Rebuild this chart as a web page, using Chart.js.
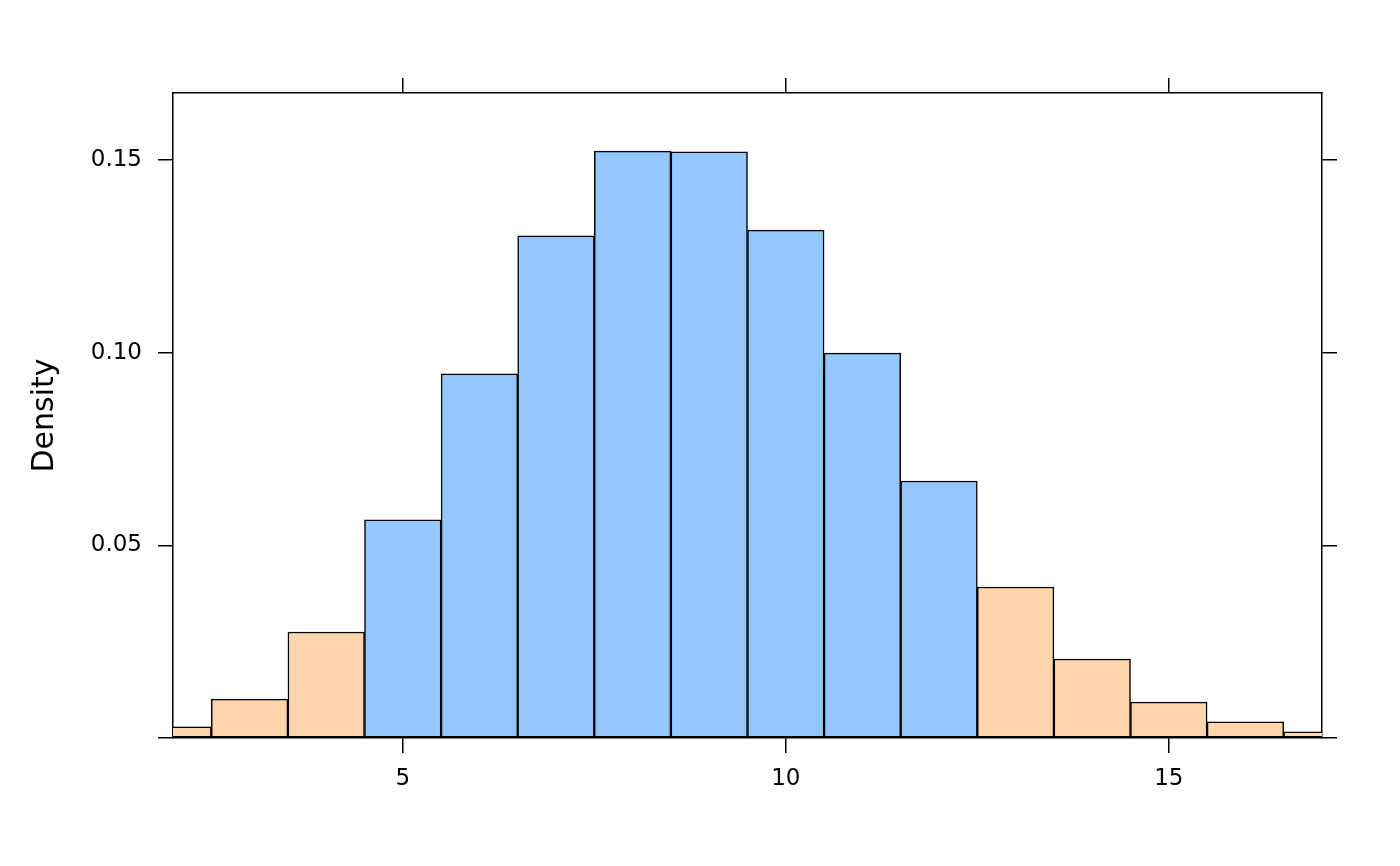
<!DOCTYPE html>
<html>
<head>
<meta charset="utf-8">
<script src="https://cdn.jsdelivr.net/npm/chart.js@4.4.1/dist/chart.umd.min.js"></script>
<style>
  html, body { margin: 0; padding: 0; background: #fff; }
  #wrap { width: 1400px; height: 866px; }
</style>
</head>
<body>
<div id="wrap"><canvas id="myChart" width="1400" height="866"></canvas></div>
<script>
// bin centres (width 1), density per bin
const binCenters = [2, 3, 4, 5, 6, 7, 8, 9, 10, 11, 12, 13, 14, 15, 16, 17];
const density = [0.0029, 0.0101, 0.0275, 0.0566, 0.0945, 0.1303, 0.1523, 0.1521,
                 0.1318, 0.0999, 0.0667, 0.0392, 0.0205, 0.0093, 0.0042, 0.0016];
// which bins are in the middle group (blue) vs. the tails (peach)
const inMiddle = [false, false, false, true, true, true, true, true,
                  true, true, true, false, false, false, false, false];
const xTicks = [5, 10, 15];
const yTicks = [0, 0.05, 0.10, 0.15];

const peach = '#FFD5AE';
const blue = '#94C6FF';

const tickFont = { family: 'DejaVu Sans', size: 23 };

function fixTicks(values) {
  return function (scale) {
    scale.ticks = values.map(v => ({ value: v }));
  };
}

const ctx = document.getElementById('myChart');
new Chart(ctx, {
  type: 'bar',
  data: {
    datasets: [{
      data: binCenters.map((x, i) => ({ x: x, y: density[i] })),
      backgroundColor: inMiddle.map(m => m ? blue : peach),
      borderColor: '#000',
      borderWidth: 1.5,
      borderSkipped: false,
      barPercentage: 1,
      categoryPercentage: 1,
      clip: 0
    }]
  },
  options: {
    responsive: false,
    animation: false,
    events: [],
    layout: { padding: 0 },
    plugins: { legend: { display: false }, tooltip: { enabled: false } },
    scales: {
      x: {
        type: 'linear',
        position: 'bottom',
        min: 2,
        max: 17,
        offset: false,
        afterBuildTicks: fixTicks(xTicks),
        afterFit: s => { s.height = 128; },
        grid: { display: true, offset: false, drawOnChartArea: false, tickLength: 15, color: '#000', lineWidth: 1.5 },
        border: { display: true, color: '#000', width: 1.5 },
        ticks: { color: '#000', font: tickFont, padding: 12, maxRotation: 0,
                 callback: v => String(v) }
      },
      x2: {
        type: 'linear',
        position: 'top',
        min: 2,
        max: 17,
        offset: false,
        afterBuildTicks: fixTicks(xTicks),
        afterFit: s => { s.height = 93; },
        grid: { display: true, offset: false, drawOnChartArea: false, tickLength: 15, color: '#000', lineWidth: 1.5 },
        border: { display: true, color: '#000', width: 1.5 },
        ticks: { display: false }
      },
      y: {
        type: 'linear',
        position: 'left',
        min: 0,
        max: 0.1674,
        afterBuildTicks: fixTicks(yTicks),
        afterFit: s => { s.width = 173; },
        grid: { display: true, drawOnChartArea: false, tickLength: 15, color: '#000', lineWidth: 1.5 },
        border: { display: true, color: '#000', width: 1.5 },
        ticks: { color: '#000', font: tickFont, padding: 16,
                 callback: v => v === 0 ? '' : v.toFixed(2) },
        title: {
          display: true,
          text: 'Density',
          color: '#000',
          font: { family: 'DejaVu Sans', size: 30 },
          padding: { top: 27, bottom: 0 }
        }
      },
      y2: {
        type: 'linear',
        position: 'right',
        min: 0,
        max: 0.1674,
        afterBuildTicks: fixTicks(yTicks),
        afterFit: s => { s.width = 78; },
        grid: { display: true, drawOnChartArea: false, tickLength: 15, color: '#000', lineWidth: 1.5 },
        border: { display: true, color: '#000', width: 1.5 },
        ticks: { display: false }
      }
    }
  }
});
</script>
</body>
</html>
